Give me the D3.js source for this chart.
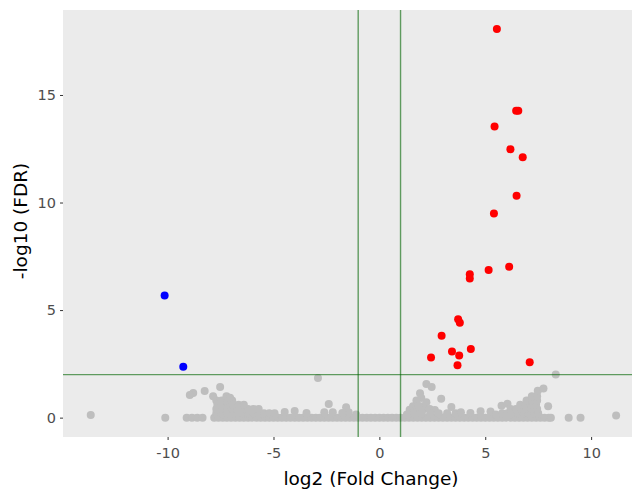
<!DOCTYPE html>
<html>
<head>
<meta charset="utf-8">
<script src="https://cdn.jsdelivr.net/npm/d3@7"></script>
<style>
  body { margin: 0; background: #fff; }
  text { font-family: "DejaVu Sans", Verdana, sans-serif; }
</style>
</head>
<body>
<div id="volcanoContainer"></div>
<script>
// significant up (red)
var upX = [5.55, 6.46, 6.56, 5.44, 6.19, 6.77, 6.48, 5.41, 6.13, 5.16, 4.27, 4.27, 3.72, 3.80, 2.94, 3.43, 4.32, 3.77, 2.44, 3.69, 7.10];
var upY = [18.07, 14.27, 14.27, 13.53, 12.48, 12.11, 10.31, 9.49, 7.01, 6.86, 6.67, 6.47, 4.57, 4.41, 3.81, 3.08, 3.19, 2.89, 2.80, 2.43, 2.57];
// significant down (blue)
var downX = [-10.14, -9.26];
var downY = [5.68, 2.37];
// not significant (grey)
var nsX = [
  -13.63, -10.11, -9.1, -8.85, -8.6, -8.35,
  -7.8, -7.6, -7.4, -7.2, -7.0, -6.8, -6.6, -6.4, -6.2, -6.0, -5.8, -5.6, -5.4, -5.2, -5.0, -4.8, -4.6, -4.4, -4.2, -4.0,
  -3.8, -3.6, -3.4, -3.2, -3.0, -2.8, -2.6, -2.4, -2.2, -2.0, -1.8, -1.6, -1.4, -1.2, -1.0, -0.8, -0.6, -0.4, -0.2, 0.0,
  0.2, 0.4, 0.6, 0.8, 1.0, 1.2, 1.4, 1.6, 1.8, 2.0, 2.2, 2.4, 2.6, 2.8, 3.0, 3.2, 3.4, 3.6, 3.8, 4.0,
  4.2, 4.4, 4.6, 4.8, 5.0, 5.2, 5.4, 5.6, 5.8, 6.0, 6.2, 6.4, 6.6, 6.8, 7.0, 7.2, 7.4, 7.6, 7.8, 8.0, 8.1,
  8.94, 9.5, 11.18,
  -7.7, -7.45, -7.2, -6.95, -6.7, -6.45, -6.2, -5.95, -5.7, -5.45, -5.2, -4.95,
  -7.7, -7.45, -7.2, -6.95, -6.7, -6.45, -6.2, -5.95, -5.7,
  -7.65, -7.4, -7.15, -6.9, -6.65, -6.4,
  -7.7, -7.45, -7.2, -6.95,
  -7.85, -7.22, -7.05, -7.52, -8.25, -8.79, -8.95,
  -4.47, -4.0, -3.44, -2.39, -2.6, -2.2, -1.57, -1.45, -1.75, -2.9, -1.1,
  2.22, 2.47, 1.92, 1.98, 1.75, 1.59, 1.43, 2.1, 2.22, 2.06, 2.38, 2.62, 1.8, 1.6, 2.0, 2.4, 2.8, 2.92, 3.4, 3.2, 3.6, 1.3, 1.85,
  3.85, 4.3, 4.78, 5.25, 5.77, 6.05, 5.5,
  5.8, 6.05, 6.3, 6.55, 6.8, 7.05, 7.3, 7.5,
  6.2, 6.45, 6.7, 6.95, 7.2, 7.45,
  6.65, 6.9, 7.15, 7.4,
  6.95, 7.2, 7.45,
  7.2, 7.45,
  7.48, 7.75, 7.97, 8.33
];
var nsY = [
  0.12, 0, 0, 0, 0, 0,
  0, 0, 0, 0, 0, 0, 0, 0, 0, 0, 0, 0, 0, 0, 0, 0, 0, 0, 0, 0,
  0, 0, 0, 0, 0, 0, 0, 0, 0, 0, 0, 0, 0, 0, 0, 0, 0, 0, 0, 0,
  0, 0, 0, 0, 0, 0, 0, 0, 0, 0, 0, 0, 0, 0, 0, 0, 0, 0, 0, 0,
  0, 0, 0, 0, 0, 0, 0, 0, 0, 0, 0, 0, 0, 0, 0, 0, 0, 0, 0, 0, 0,
  0, 0, 0.1,
  0.2, 0.2, 0.2, 0.2, 0.2, 0.2, 0.2, 0.2, 0.2, 0.2, 0.2, 0.2,
  0.4, 0.4, 0.4, 0.4, 0.4, 0.4, 0.4, 0.4, 0.4,
  0.6, 0.6, 0.6, 0.6, 0.6, 0.6,
  0.8, 0.8, 0.8, 0.8,
  0.99, 1.0, 0.92, 1.42, 1.24, 1.15, 1.05,
  0.26, 0.31, 0.22, 0.63, 0.25, 0.25, 0.48, 0.25, 0.22, 1.84, 0.15,
  1.56, 1.43, 1.13, 0.91, 0.8, 0.53, 0.37, 0.4, 0.72, 0.53, 0.4, 0.35, 0.3, 0.2, 0.2, 0.2, 0.2, 0.88, 0.5, 0.2, 0.2, 0.15, 0.55,
  0.25, 0.22, 0.3, 0.28, 0.55, 0.64, 0.15,
  0.2, 0.2, 0.2, 0.2, 0.2, 0.2, 0.2, 0.2,
  0.4, 0.4, 0.4, 0.4, 0.4, 0.4,
  0.6, 0.6, 0.6, 0.6,
  0.8, 0.8, 0.8,
  1.0, 1.0,
  1.25, 1.35, 0.53, 2.0
];
var xTicks = [-10, -5, 0, 5, 10];
var yTicks = [0, 5, 10, 15];
var fcCut = [-1, 1];
var fdrCut = 2;

function drawVolcano() {
    var width = 632, height = 492;
    var panel = { left: 63, top: 10, right: 632, bottom: 437 };

    var svg = d3.select("#volcanoContainer")
        .append("svg")
        .attr("width", width)
        .attr("height", height);

    // scales (panel actually continues past the right edge of the picture)
    var x = d3.scaleLinear().domain([-14.94, 12.45]).range([63, 643]);
    var y = d3.scaleLinear().domain([-0.9, 18.95]).range([panel.bottom, panel.top]);

    svg.append("rect")
        .attr("x", panel.left)
        .attr("y", panel.top)
        .attr("width", panel.right - panel.left)
        .attr("height", panel.bottom - panel.top)
        .style("fill", "#ebebeb");

    var plot = svg.append("g");

    //grey points
    plot.selectAll(".ns")
        .data(d3.range(nsX.length))
        .enter()
        .append("circle")
        .attr("cx", d => x(nsX[d]))
        .attr("cy", d => y(nsY[d]))
        .attr("r", 4)
        .style("fill", "#bebebe");

    plot.selectAll(".down")
        .data(d3.range(downX.length))
        .enter()
        .append("circle")
        .attr("cx", d => x(downX[d]))
        .attr("cy", d => y(downY[d]))
        .attr("r", 4)
        .style("fill", "#0000ff");

    plot.selectAll(".up")
        .data(d3.range(upX.length))
        .enter()
        .append("circle")
        .attr("cx", d => x(upX[d]))
        .attr("cy", d => y(upY[d]))
        .attr("r", 4)
        .style("fill", "#ff0000");

    // cutoff lines
    plot.selectAll(".vcut")
        .data(fcCut)
        .enter()
        .append("line")
        .attr("x1", d => x(d))
        .attr("x2", d => x(d))
        .attr("y1", panel.top)
        .attr("y2", panel.bottom)
        .style("stroke", "#006400")
        .style("stroke-opacity", 0.6)
        .style("stroke-width", 1.4);
    plot.append("line")
        .attr("x1", panel.left)
        .attr("x2", panel.right)
        .attr("y1", y(fdrCut))
        .attr("y2", y(fdrCut))
        .style("stroke", "#006400")
        .style("stroke-opacity", 0.6)
        .style("stroke-width", 1.4);

    // axes
    var xAxis = svg.append("g")
        .attr("transform", "translate(0," + panel.bottom + ")")
        .call(d3.axisBottom(x).tickValues(xTicks).tickSize(3).tickPadding(8).tickFormat(d3.format("d")));
    var yAxis = svg.append("g")
        .attr("transform", "translate(" + panel.left + ",0)")
        .call(d3.axisLeft(y).tickValues(yTicks).tickSize(3).tickPadding(4).tickFormat(d3.format("d")));

    [xAxis, yAxis].forEach(function (a) {
        a.select(".domain").remove();
        a.selectAll(".tick line").style("stroke", "#333333");
        a.selectAll(".tick text")
            .style("fill", "#4d4d4d")
            .style("font-size", "14.5px")
            .style("font-family", "DejaVu Sans, Verdana, sans-serif");
    });
    // hyphen like the reference instead of unicode minus
    xAxis.selectAll(".tick text").text(d => String(d));

    svg.append("text")
        .attr("x", 371)
        .attr("y", 485)
        .attr("text-anchor", "middle")
        .style("font-size", "18.5px")
        .style("fill", "#000")
        .text("log2 (Fold Change)");

    svg.append("text")
        .attr("transform", "translate(27," + 221 + ") rotate(-90)")
        .attr("text-anchor", "middle")
        .style("font-size", "18.5px")
        .style("fill", "#000")
        .text("-log10 (FDR)");
}

drawVolcano();
</script>
</body>
</html>
